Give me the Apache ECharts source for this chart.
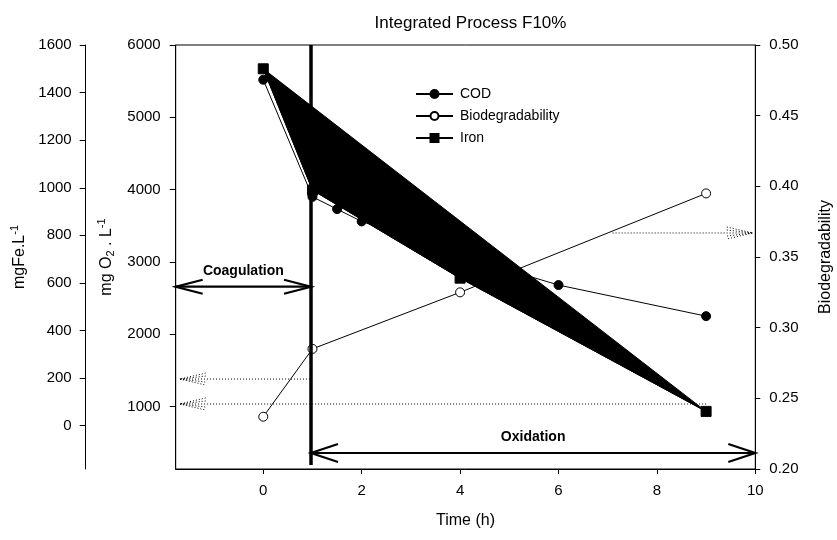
<!DOCTYPE html>
<html>
<head>
<meta charset="utf-8">
<script src="https://cdn.jsdelivr.net/npm/echarts@6/dist/echarts.min.js"></script>
<style>
html, body { margin: 0; padding: 0; background: #fff; }
#chart { width: 837px; height: 540px; }
</style>
</head>
<body>
<div id="chart"></div>
<script>
// ---- data ----
const timeTicks = [0, 2, 4, 6, 8, 10];

const codTime = [0, 1, 1.5, 2, 4, 6, 9];
const codValues = [5520, 3900, 3730, 3560, 3090, 2680, 2250];      // mg O2/L

const bioTime = [0, 1, 4, 9];
const bioValues = [0.237, 0.285, 0.325, 0.395];                    // BOD/COD

const ironTime = [0, 1, 4, 9];
const ironValues = [1500, 990, 620, 60];                           // mg Fe/L

const o2Ticks = [1000, 2000, 3000, 4000, 5000, 6000];
const feTicks = [0, 200, 400, 600, 800, 1000, 1200, 1400, 1600];
const bioTicks = [0.20, 0.25, 0.30, 0.35, 0.40, 0.45, 0.50];

// ---- annotation geometry (time, mg O2/L) ----
const phaseSwitch = 0.97;
const coagulation = { from: -1.78, to: phaseSwitch, y: 2657, label: 'Coagulation' };
const oxidation = { from: phaseSwitch, to: 10, y: 357, label: 'Oxidation' };
const dividerSpan = [191, 6000];
const dottedArrows = [
  { from: 9, to: -1.7, y: 1035 },
  { from: 0.95, to: -1.7, y: 1380 },
  { from: 7.1, to: 9.95, y: 3400 }
];

const FONT = '"Liberation Sans", Arial, sans-serif';
const chart = echarts.init(document.getElementById('chart'), null, { renderer: 'canvas' });

const pairs = (xs, ys) => xs.map((x, i) => [x, ys[i]]);
const plain = (v) => String(v);

function chevron(tip, dir, len, spread, style) {
  // open arrow head: two strokes meeting at the tip
  return {
    type: 'polyline',
    shape: { points: [[tip[0] - dir * len, tip[1] - spread], tip, [tip[0] - dir * len, tip[1] + spread]] },
    style: style
  };
}

function renderAnnotations(params, api) {
  const solid = { stroke: '#000', lineWidth: 2.2, fill: null };
  const dotted = { stroke: '#000', lineWidth: 1, lineDash: [1, 2], fill: null };
  const children = [];

  const d0 = api.coord([phaseSwitch, dividerSpan[0]]);
  const d1 = api.coord([phaseSwitch, dividerSpan[1]]);
  children.push({ type: 'line', shape: { x1: d0[0], y1: d0[1], x2: d1[0], y2: d1[1] },
    style: { stroke: '#000', lineWidth: 3.5 } });

  [coagulation, oxidation].forEach(function (a, k) {
    const p0 = api.coord([a.from, a.y]);
    const p1 = api.coord([a.to, a.y]);
    children.push({ type: 'line', shape: { x1: p0[0], y1: p0[1], x2: p1[0], y2: p1[1] }, style: solid });
    const spread = k === 0 ? 7 : 9;
    children.push(chevron(p0, -1, 27, spread, solid));
    children.push(chevron(p1, 1, 27, spread, solid));
    children.push({ type: 'text', x: (p0[0] + p1[0]) / 2, y: p0[1] - 9,
      style: { text: a.label, font: 'bold 14px ' + FONT, fill: '#000', align: 'center', verticalAlign: 'bottom' } });
  });

  dottedArrows.forEach(function (a) {
    const p0 = api.coord([a.from, a.y]);
    const p1 = api.coord([a.to, a.y]);
    const dir = p1[0] > p0[0] ? 1 : -1;
    children.push({ type: 'line', shape: { x1: p0[0], y1: p0[1], x2: p1[0], y2: p1[1] }, style: dotted });
    children.push(chevron(p1, dir, 26, 6, dotted));
    children.push(chevron(p1, dir, 26, 3, dotted));
  });

  return { type: 'group', children: children };
}

function renderIronArea(params, api) {
  if (params.dataIndex !== 0) return null;
  const pts = ironTime.map(function (t, i) { return api.coord([t, ironValues[i]]); });
  return { type: 'polygon', shape: { points: pts }, style: { fill: '#000', stroke: '#000', lineWidth: 1 } };
}

const tickLabel = { color: '#000', fontFamily: FONT, fontSize: 15 };
const axisLine = { show: true, onZero: false, lineStyle: { color: '#000', width: 1 } };

const option = {
  animation: false,
  backgroundColor: '#fff',
  title: {
    text: 'Integrated Process F10%',
    left: 465.5, top: 10, textAlign: 'center',
    textStyle: { fontFamily: FONT, fontWeight: 'normal', fontSize: 17, color: '#000' }
  },
  legend: {
    orient: 'vertical', left: 410, top: 82,
    itemWidth: 37, itemHeight: 10, itemGap: 8,
    data: ['COD', 'Biodegradability', 'Iron'],
    textStyle: { fontFamily: FONT, fontSize: 14, color: '#000', padding: [0, 0, 0, 2] }
  },
  grid: {
    left: 175.7, right: 81.7, top: 45, bottom: 71,
    containLabel: false, outerBoundsMode: 'none',
    show: true, borderColor: '#000', borderWidth: 1
  },
  xAxis: {
    type: 'value', min: -1.78, max: 10,
    name: 'Time (h)', nameLocation: 'middle', nameGap: 44,
    nameTextStyle: { fontFamily: FONT, fontSize: 16, color: '#000' },
    axisLine: axisLine,
    axisTick: { show: true, length: 5, customValues: timeTicks, lineStyle: { color: '#000' } },
    axisLabel: Object.assign({ margin: 14, customValues: timeTicks, formatter: plain }, tickLabel),
    splitLine: { show: false }
  },
  yAxis: [
    {
      type: 'value', position: 'left', offset: 0, min: 136, max: 6000,
      name: '{t|mg O}{sub|2}{t| . L}{sup|-1}', nameLocation: 'middle', nameGap: 55, nameRotate: 90,
      nameTextStyle: { color: '#000', rich: {
        t: { fontFamily: FONT, fontSize: 16, color: '#000' },
        sub: { fontFamily: FONT, fontSize: 11, color: '#000', padding: [8, 0, 0, 0] },
        sup: { fontFamily: FONT, fontSize: 11, color: '#000', padding: [0, 0, 9, 0] } } },
      axisLine: axisLine,
      axisTick: { show: true, length: 6, customValues: o2Ticks, lineStyle: { color: '#000' } },
      axisLabel: Object.assign({ margin: 15, customValues: o2Ticks, formatter: plain }, tickLabel),
      splitLine: { show: false }
    },
    {
      type: 'value', position: 'left', offset: 90, min: -182, max: 1600,
      name: '{t|mgFe.L}{sup|-1}', nameLocation: 'middle', nameGap: 39, nameRotate: 90,
      nameTextStyle: { color: '#000', rich: {
        t: { fontFamily: FONT, fontSize: 16, color: '#000' },
        sup: { fontFamily: FONT, fontSize: 11, color: '#000', padding: [0, 0, 9, 0] } } },
      axisLine: axisLine,
      axisTick: { show: true, length: 6, customValues: feTicks, lineStyle: { color: '#000' } },
      axisLabel: Object.assign({ margin: 14, customValues: feTicks, formatter: plain }, tickLabel),
      splitLine: { show: false }
    },
    {
      type: 'value', position: 'right', offset: 0, min: 0.2, max: 0.5,
      name: 'Biodegradability', nameLocation: 'middle', nameGap: 62, nameRotate: 90,
      nameTextStyle: { fontFamily: FONT, fontSize: 16, color: '#000' },
      axisLine: axisLine,
      axisTick: { show: true, length: 5, customValues: bioTicks, lineStyle: { color: '#000' } },
      axisLabel: Object.assign({ margin: 14, customValues: bioTicks,
        formatter: function (v) { return Number(v).toFixed(2); } }, tickLabel),
      splitLine: { show: false }
    }
  ],
  series: [
    {
      name: 'COD', type: 'line', yAxisIndex: 0, z: 3,
      data: pairs(codTime, codValues),
      symbol: 'circle', symbolSize: 9,
      lineStyle: { color: '#000', width: 1 },
      itemStyle: { color: '#000', borderColor: '#000', borderWidth: 1 }
    },
    {
      name: 'Biodegradability', type: 'line', yAxisIndex: 2, z: 3,
      data: pairs(bioTime, bioValues),
      symbol: 'circle', symbolSize: 9,
      lineStyle: { color: '#000', width: 1 },
      itemStyle: { color: '#fff', borderColor: '#000', borderWidth: 1 }
    },
    {
      name: 'Iron area', type: 'custom', yAxisIndex: 1, z: 4,
      data: pairs(ironTime, ironValues),
      renderItem: renderIronArea, silent: true
    },
    {
      name: 'Iron', type: 'line', yAxisIndex: 1, z: 5,
      data: pairs(ironTime, ironValues),
      symbol: 'rect', symbolSize: 10,
      lineStyle: { color: '#000', width: 1 },
      itemStyle: { color: '#000', borderColor: '#000', borderWidth: 1 }
    },
    {
      name: 'Annotations', type: 'custom', yAxisIndex: 0, z: 6,
      data: [[0, 0]],
      renderItem: renderAnnotations, silent: true, clip: false
    }
  ]
};

chart.setOption(option);
</script>
</body>
</html>
